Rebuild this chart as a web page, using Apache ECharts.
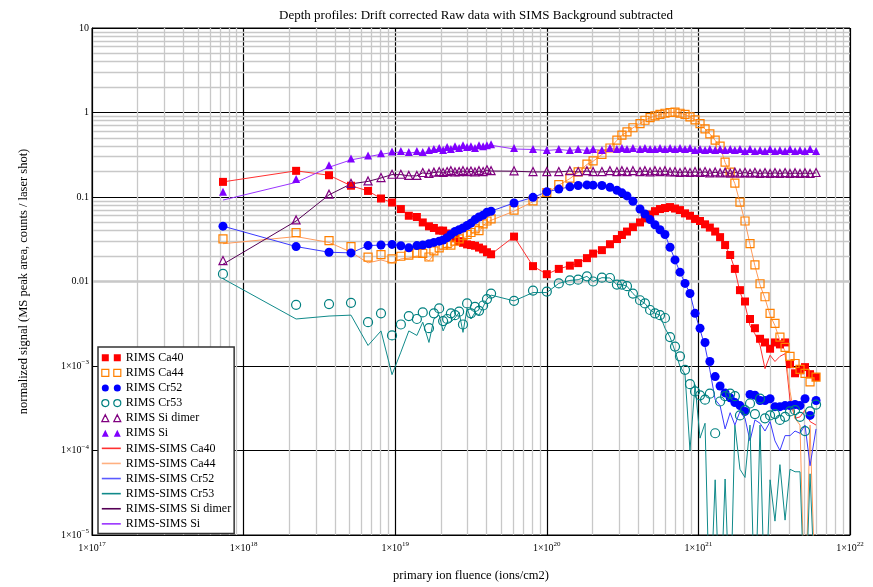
<!DOCTYPE html>
<html><head><meta charset="utf-8">
<script src="https://cdn.jsdelivr.net/npm/echarts@6/dist/echarts.min.js"></script>
<style>html,body{margin:0;padding:0;background:#fff}#c{width:873px;height:587px}</style>
</head><body><div id="c"></div>
<script>
// ---- data ----
const fluence = [
7.31e17, 2.22e18, 3.66e18, 5.11e18, 6.62e18, 8.06e18, 9.53e18, 1.09e19, 1.23e19, 1.39e19,
1.52e19, 1.67e19, 1.80e19, 1.95e19, 2.07e19, 2.20e19, 2.33e19, 2.48e19, 2.64e19, 2.80e19,
2.98e19, 3.16e19, 3.36e19, 3.57e19, 3.80e19, 4.03e19, 4.29e19, 6.08e19, 8.11e19, 1.00e20,
1.20e20, 1.42e20, 1.61e20, 1.84e20, 2.02e20, 2.31e20, 2.61e20, 2.90e20, 3.13e20, 3.38e20,
3.70e20, 4.12e20, 4.44e20, 4.80e20, 5.17e20, 5.58e20, 6.02e20, 6.50e20, 7.01e20, 7.56e20,
8.16e20, 8.80e20, 9.50e20, 1.025e21, 1.106e21, 1.19e21, 1.29e21, 1.39e21, 1.50e21, 1.62e21,
1.74e21, 1.88e21, 2.03e21, 2.19e21, 2.36e21, 2.55e21, 2.75e21, 2.97e21, 3.20e21, 3.45e21,
3.73e21, 4.02e21, 4.34e21, 4.68e21, 5.05e21, 5.45e21, 5.97e21];

const rimsCa40 = [
0.151, 0.204, 0.181, 0.136, 0.118, 0.096, 0.086, 0.072, 0.060, 0.058,
0.050, 0.045, 0.043, 0.040, 0.040, 0.037, 0.0355, 0.0325, 0.030, 0.0287,
0.0275, 0.027, 0.0265, 0.0252, 0.024, 0.0222, 0.021, 0.034, 0.0152, 0.0122,
0.0141, 0.0154, 0.0165, 0.0189, 0.0214, 0.0235, 0.0276, 0.0318, 0.0355, 0.039,
0.044, 0.050, 0.056, 0.062, 0.068, 0.072, 0.074, 0.076, 0.073, 0.070,
0.064, 0.060, 0.055, 0.052, 0.0475, 0.0435, 0.039, 0.0335, 0.027, 0.0206,
0.0141, 0.0079, 0.0058, 0.0036, 0.0028, 0.0021, 0.0019, 0.0016, 0.0019, 0.0018,
0.0019, 0.00105, 0.00082, 0.00089, 0.00097, 0.00080, 0.00074];

const rimsCa44 = [
0.0319, 0.0378, 0.0304, 0.0259, 0.0194, 0.0208, 0.0185, 0.0199, 0.0205, 0.0217,
0.0215, 0.0195, 0.023, 0.025, 0.027, 0.028, 0.027, 0.030, 0.032, 0.035,
0.036, 0.038, 0.042, 0.040, 0.048, 0.052, 0.055, 0.070, 0.090, 0.113,
0.14, 0.167, 0.198, 0.245, 0.267, 0.32, 0.38, 0.47, 0.54, 0.59,
0.66, 0.74, 0.81, 0.87, 0.91, 0.95, 0.98, 1.0, 1.01, 0.98,
0.95, 0.89, 0.82, 0.74, 0.64, 0.56, 0.47, 0.40, 0.258, 0.197,
0.146, 0.087, 0.052, 0.028, 0.0157, 0.0094, 0.0066, 0.0042, 0.0032, 0.0022,
0.00166, 0.0013, 0.00107, 0.00091, 0.00082, 0.00065, 0.00074];

const rimsCr52 = [
0.0452, 0.0259, 0.0222, 0.0218, 0.0266, 0.027, 0.0275, 0.0265, 0.025, 0.0266,
0.027, 0.028, 0.029, 0.030, 0.031, 0.033, 0.036, 0.039, 0.041, 0.043,
0.046, 0.049, 0.054, 0.058, 0.061, 0.066, 0.068, 0.085, 0.099, 0.115,
0.124, 0.132, 0.137, 0.139, 0.138, 0.137, 0.130, 0.120, 0.112, 0.103,
0.089, 0.072, 0.063, 0.054, 0.047, 0.041, 0.036, 0.0254, 0.018, 0.0129,
0.0095, 0.0072, 0.0042, 0.0028, 0.0019, 0.00113, 0.00075, 0.00058, 0.00048, 0.00042,
0.00037, 0.00034, 0.00029, 0.00046, 0.00045, 0.00039, 0.00039, 0.00041, 0.00033, 0.00033,
0.00034, 0.00034, 0.00035, 0.00034, 0.00041, 0.00026, 0.00039];

const rimsCr53 = [
0.0123, 0.0053, 0.0054, 0.0056, 0.0033, 0.0042, 0.0023, 0.0031, 0.0039, 0.0036,
0.0043, 0.0028, 0.0042, 0.0048, 0.0034, 0.0036, 0.0042, 0.0040, 0.0044, 0.0031,
0.0055, 0.0042, 0.0050, 0.0045, 0.0052, 0.0062, 0.0072, 0.0059, 0.0078, 0.0076,
0.0095, 0.0103, 0.0105, 0.0115, 0.0100, 0.0111, 0.0110, 0.0092, 0.0092, 0.0088,
0.0072, 0.0060, 0.0055, 0.0046, 0.0042, 0.0040, 0.0037, 0.0022, 0.0017, 0.0013,
0.0009, 0.00061, 0.0005, 0.00045, 0.0004, 0.00047, 0.00016, 0.00038, 0.00044, 0.00047,
0.00044, 0.00026, 0.0003, 0.00036, 0.00027, 0.00041, 0.00024, 0.00026, 0.00027, 0.00023,
0.00025, 0.00029, 0.0003, 0.00025, 0.00017, 0.00029, 0.00035];

const rimsSiDimer = [
0.0177, 0.0535, 0.108, 0.145, 0.155, 0.17, 0.186, 0.186, 0.18, 0.18,
0.195, 0.19, 0.197, 0.2, 0.195, 0.2, 0.205, 0.198, 0.2, 0.205,
0.2, 0.203, 0.198, 0.205, 0.2, 0.21, 0.205, 0.204, 0.2, 0.2,
0.2, 0.205, 0.2, 0.205, 0.2, 0.2, 0.205, 0.2, 0.205, 0.2,
0.205, 0.2, 0.205, 0.198, 0.205, 0.2, 0.205, 0.198, 0.2, 0.195,
0.2, 0.195, 0.2, 0.195, 0.2, 0.193, 0.198, 0.193, 0.197, 0.192,
0.197, 0.192, 0.196, 0.191, 0.196, 0.19, 0.195, 0.19, 0.195, 0.19,
0.195, 0.19, 0.194, 0.19, 0.194, 0.19, 0.195];

const rimsSi = [
0.115, 0.163, 0.238, 0.285, 0.31, 0.33, 0.345, 0.35, 0.34, 0.35,
0.34, 0.36, 0.37, 0.38, 0.36, 0.39, 0.37, 0.40, 0.38, 0.41,
0.39, 0.40, 0.38, 0.41, 0.40, 0.41, 0.42, 0.38, 0.37, 0.36,
0.37, 0.36, 0.37, 0.36, 0.37, 0.36, 0.38, 0.37, 0.38, 0.37,
0.38, 0.37, 0.38, 0.37, 0.37, 0.38, 0.37, 0.38, 0.37, 0.38,
0.37, 0.38, 0.36, 0.37, 0.36, 0.37, 0.36, 0.37, 0.36, 0.37,
0.36, 0.37, 0.35, 0.37, 0.35, 0.36, 0.35, 0.37, 0.35, 0.36,
0.35, 0.37, 0.35, 0.36, 0.35, 0.37, 0.35];

const simsCa40 = [
0.151, 0.204, 0.181, 0.136, 0.118, 0.096, 0.086, 0.072, 0.060, 0.058,
0.050, 0.045, 0.043, 0.040, 0.040, 0.037, 0.0355, 0.0325, 0.030, 0.0287,
0.0275, 0.027, 0.0265, 0.0252, 0.024, 0.0222, 0.021, 0.034, 0.0152, 0.0122,
0.0141, 0.0154, 0.0165, 0.0189, 0.0214, 0.0235, 0.0276, 0.0318, 0.0355, 0.039,
0.044, 0.050, 0.056, 0.062, 0.068, 0.072, 0.074, 0.076, 0.073, 0.070,
0.064, 0.060, 0.055, 0.052, 0.0475, 0.0435, 0.039, 0.0333, 0.0268, 0.0204,
0.0139, 0.0075, 0.0053, 0.0030, 0.0024, 0.00176, 0.00093, 0.00134, 0.00113, 0.0013,
0.0014, 0.0004, 0.00024, 0.00025, 0.0003, 0.00022, 0.0002];

const simsCa44 = [
0.028, 0.034, 0.029, 0.0223, 0.0166, 0.018, 0.0166, 0.0185, 0.019, 0.020,
0.0195, 0.0175, 0.021, 0.023, 0.025, 0.026, 0.025, 0.028, 0.030, 0.033,
0.034, 0.036, 0.040, 0.038, 0.046, 0.050, 0.053, 0.068, 0.088, 0.111,
0.138, 0.165, 0.196, 0.243, 0.265, 0.318, 0.378, 0.468, 0.538, 0.588,
0.658, 0.738, 0.808, 0.868, 0.908, 0.948, 0.978, 0.998, 1.008, 0.978,
0.948, 0.888, 0.818, 0.738, 0.638, 0.558, 0.468, 0.398, 0.256, 0.195,
0.144, 0.086, 0.051, 0.0275, 0.0153, 0.0091, 0.0063, 0.0040, 0.0030, 0.0020,
0.0015, 0.0005, 0.00024, 0.0002, 0.000001, 0.0002, 0.000001];

const simsCr52 = [
0.0452, 0.0259, 0.0222, 0.0218, 0.0266, 0.027, 0.0275, 0.0265, 0.025, 0.0266,
0.027, 0.028, 0.029, 0.030, 0.031, 0.033, 0.036, 0.039, 0.041, 0.043,
0.046, 0.049, 0.054, 0.058, 0.061, 0.066, 0.068, 0.085, 0.099, 0.115,
0.124, 0.132, 0.137, 0.139, 0.138, 0.137, 0.130, 0.120, 0.112, 0.103,
0.089, 0.072, 0.063, 0.054, 0.047, 0.041, 0.036, 0.0254, 0.018, 0.0129,
0.0095, 0.0072, 0.0042, 0.0027, 0.0017, 0.0009, 0.0004, 0.00034, 0.00018, 0.00028,
0.0002, 0.00029, 0.00024, 0.00013, 0.00023, 0.00021, 0.00017, 0.00022, 0.00013, 0.0001,
0.00015, 0.00015, 0.00017, 0.00016, 0.0002, 0.000066, 0.00018];

const simsCr53 = [
0.0108, 0.0036, 0.0039, 0.0040, 0.00175, 0.0026, 0.00079, 0.00146, 0.0026, 0.0023,
0.0033, 0.0019, 0.0036, 0.0040, 0.0026, 0.0033, 0.0033, 0.0037, 0.0043, 0.0025,
0.0048, 0.0036, 0.0043, 0.0040, 0.0050, 0.0062, 0.0069, 0.0059, 0.0074, 0.0074,
0.0095, 0.0103, 0.0105, 0.0115, 0.0100, 0.0111, 0.0110, 0.0092, 0.0092, 0.0088,
0.0072, 0.0060, 0.0055, 0.0046, 0.0042, 0.0040, 0.0028, 0.0022, 0.0015, 0.00099,
0.0008, 0.0001, 0.0006, 0.00014, 0.00021, 0.000001, 0.000045, 0.000001, 0.000046, 0.000001,
0.0002, 0.00006, 0.000048, 0.0002, 0.000001, 0.0002, 0.000001, 0.000045, 0.0000146, 0.000068,
0.000015, 0.00006, 0.000056, 0.000056, 0.000001, 0.000053, 0.000001];

const simsSiDimer = [
0.016, 0.052, 0.106, 0.143, 0.153, 0.168, 0.184, 0.184, 0.178, 0.178,
0.193, 0.188, 0.195, 0.198, 0.193, 0.198, 0.203, 0.196, 0.198, 0.203,
0.198, 0.201, 0.196, 0.203, 0.198, 0.208, 0.203, 0.202, 0.198, 0.198,
0.198, 0.203, 0.198, 0.203, 0.198, 0.198, 0.203, 0.198, 0.203, 0.198,
0.203, 0.198, 0.203, 0.196, 0.203, 0.198, 0.203, 0.196, 0.198, 0.193,
0.198, 0.193, 0.198, 0.193, 0.198, 0.191, 0.196, 0.191, 0.195, 0.19,
0.195, 0.19, 0.194, 0.189, 0.194, 0.188, 0.193, 0.188, 0.193, 0.188,
0.193, 0.188, 0.192, 0.188, 0.192, 0.188, 0.193];

const simsSi = [
0.092, 0.149, 0.225, 0.275, 0.30, 0.32, 0.335, 0.34, 0.33, 0.34,
0.33, 0.35, 0.36, 0.37, 0.35, 0.38, 0.36, 0.39, 0.37, 0.40,
0.38, 0.39, 0.37, 0.40, 0.39, 0.40, 0.41, 0.37, 0.365, 0.355,
0.365, 0.355, 0.365, 0.355, 0.365, 0.355, 0.375, 0.365, 0.375, 0.365,
0.375, 0.365, 0.375, 0.365, 0.365, 0.375, 0.365, 0.375, 0.365, 0.375,
0.365, 0.375, 0.355, 0.365, 0.355, 0.365, 0.355, 0.365, 0.355, 0.365,
0.355, 0.365, 0.345, 0.365, 0.345, 0.355, 0.345, 0.365, 0.345, 0.355,
0.345, 0.365, 0.345, 0.355, 0.345, 0.365, 0.345];

const xTickExponents = [17, 18, 19, 20, 21, 22];
const yTickLabels = {"1": "10", "0": "1", "-1": "0.1", "-2": "0.01"};
const minorMantissas = [2, 3, 4, 5, 6, 7, 8, 9];

// ---- chart ----
const SERIF = '"Liberation Serif","DejaVu Serif",serif';
function expLabel(e){ return '{m|1\u00d710}{s|' + String(e).replace('-', '\u2212') + '}'; }
const richLab = {
  m: {fontFamily: SERIF, fontSize: 10, color: '#000', lineHeight: 14},
  s: {fontFamily: SERIF, fontSize: 7, color: '#000', lineHeight: 8, verticalAlign: 'top'}
};

const pts = arr => fluence.map((x, i) => [x, arr[i]]);

function scatter(name, arr, symbol, color, hollow, size){
  return {
    name, type: 'scatter', data: pts(arr), symbol, symbolSize: size, z: 3,
    itemStyle: hollow ? {color: 'rgba(255,255,255,0)', borderColor: color, borderWidth: 1.2, opacity: 1} : {color: color, opacity: 1},
    emphasis: {disabled: true}
  };
}
function line(name, arr, color){
  return {
    name, type: 'line', data: pts(arr), symbol: 'none', showSymbol: false, z: 2,
    lineStyle: {color: color, width: 1}, itemStyle: {color: color}, clip: true,
    emphasis: {disabled: true}
  };
}

const minorX = [], minorY = [];
for (let e = 17; e < 22; e++) minorMantissas.forEach(m => minorX.push({xAxis: m * Math.pow(10, e)}));
for (let e = -5; e < 1; e++) minorMantissas.forEach(m => minorY.push({yAxis: +(m * Math.pow(10, e)).toPrecision(3)}));

const C = {
  ca40: '#ff0000', ca44: '#ff8000', cr52: '#0000ff', cr53: '#008080', sid: '#800080', si: '#8000ff',
  lca40: '#ff3030', lca44: '#ff9a5a', lcr52: '#3a3aff', lcr53: '#108a8a', lsid: '#550055', lsi: '#9a33ff'
};

const series = [
  {type: 'line', name: '_grid', data: [], z: 0, silent: true,
   markLine: {silent: true, z: 0, symbol: ['none', 'none'], label: {show: false}, animation: false,
     lineStyle: {color: '#c8c8c8', type: 'solid', width: 1.3},
     data: minorX.concat(minorY)}},
  scatter('RIMS Ca40', rimsCa40, 'rect', C.ca40, false, 8),
  scatter('RIMS Ca44', rimsCa44, 'rect', C.ca44, true, 8),
  scatter('RIMS Cr52', rimsCr52, 'circle', C.cr52, false, 9),
  scatter('RIMS Cr53', rimsCr53, 'circle', C.cr53, true, 9),
  scatter('RIMS Si dimer', rimsSiDimer, 'triangle', C.sid, true, 8),
  scatter('RIMS Si', rimsSi, 'triangle', C.si, false, 8),
  line('RIMS-SIMS Ca40', simsCa40, C.lca40),
  line('RIMS-SIMS Ca44', simsCa44, C.lca44),
  line('RIMS-SIMS Cr52', simsCr52, C.lcr52),
  line('RIMS-SIMS Cr53', simsCr53, C.lcr53),
  line('RIMS-SIMS Si dimer', simsSiDimer, C.lsid),
  line('RIMS-SIMS Si', simsSi, C.lsi)
];

const SQ = 'path://M0,0H7V7H0Z M12,0H19V7H12Z';
const CI = 'path://M7,3.5A3.5,3.5,0,1,1,0,3.5A3.5,3.5,0,1,1,7,3.5Z M19,3.5A3.5,3.5,0,1,1,12,3.5A3.5,3.5,0,1,1,19,3.5Z';
const TR = 'path://M3.5,0L7,7L0,7Z M15.5,0L19,7L12,7Z';
const hollowStyle = c => ({color: 'rgba(255,255,255,0)', borderColor: c, borderWidth: 1.2, opacity: 1});
const lineItem = (name, c) => ({name, itemStyle: {color: 'rgba(0,0,0,0)', borderWidth: 0, opacity: 0}, lineStyle: {color: c, width: 1.6}});

const chart = echarts.init(document.getElementById('c'), null, {renderer: 'canvas'});
chart.setOption({
  animation: false,
  backgroundColor: '#fff',
  title: {
    text: 'Depth profiles: Drift corrected Raw data with SIMS Background subtracted',
    left: 471, top: 4, textAlign: 'center',
    textStyle: {fontFamily: SERIF, fontSize: 13, fontWeight: 'normal', color: '#000'}
  },
  grid: {left: 92, right: 23, top: 28, bottom: 50, show: true, borderColor: '#000', borderWidth: 1},
  xAxis: {
    type: 'log', logBase: 10, min: 1e17, max: 1e22,
    name: 'primary ion fluence (ions/cm2)', nameLocation: 'middle', nameGap: 34,
    nameTextStyle: {fontFamily: SERIF, fontSize: 12.5, color: '#000'},
    axisLine: {show: true, lineStyle: {color: '#000', width: 1}},
    axisTick: {show: false},
    axisLabel: {margin: 6, formatter: v => {
      const e = Math.round(Math.log10(v));
      return xTickExponents.indexOf(e) >= 0 ? expLabel(e) : '';
    }, rich: richLab},
    splitLine: {show: true, lineStyle: {color: '#000', width: 1.2}}
  },
  yAxis: {
    type: 'log', logBase: 10, min: 1e-5, max: 10,
    name: 'normalized signal (MS peak area, counts / laser shot)', nameLocation: 'middle', nameGap: 62,
    nameTextStyle: {fontFamily: SERIF, fontSize: 12.5, color: '#000'},
    axisLine: {show: true, lineStyle: {color: '#000', width: 1}},
    axisTick: {show: false},
    axisLabel: {margin: 3, formatter: v => {
      const e = Math.round(Math.log10(v));
      if (yTickLabels[String(e)] !== undefined) return '{m|' + yTickLabels[String(e)] + '}';
      return expLabel(e);
    }, rich: richLab},
    splitLine: {show: true, lineStyle: {color: '#000', width: 1.2}}
  },
  legend: {
    orient: 'vertical', left: 98, top: 347, z: 20,
    backgroundColor: '#fff', borderColor: '#333', borderWidth: 1.5, borderRadius: 0,
    padding: [4, 3, 3, 3], itemGap: 1.6, itemWidth: 19, itemHeight: 7, itemTextGap: 4,
    textStyle: {fontFamily: SERIF, fontSize: 12, color: '#000', lineHeight: 13.5},
    selectedMode: false,
    data: [
      {name: 'RIMS Ca40', icon: SQ, itemStyle: {color: C.ca40, opacity: 1}},
      {name: 'RIMS Ca44', icon: SQ, itemStyle: hollowStyle(C.ca44)},
      {name: 'RIMS Cr52', icon: CI, itemStyle: {color: C.cr52, opacity: 1}},
      {name: 'RIMS Cr53', icon: CI, itemStyle: hollowStyle(C.cr53)},
      {name: 'RIMS Si dimer', icon: TR, itemStyle: hollowStyle(C.sid)},
      {name: 'RIMS Si', icon: TR, itemStyle: {color: C.si, opacity: 1}},
      lineItem('RIMS-SIMS Ca40', C.lca40),
      lineItem('RIMS-SIMS Ca44', '#ffb080'),
      lineItem('RIMS-SIMS Cr52', '#5a5aff'),
      lineItem('RIMS-SIMS Cr53', C.lcr53),
      lineItem('RIMS-SIMS Si dimer', C.lsid),
      lineItem('RIMS-SIMS Si', C.lsi)
    ]
  },
  series: series
});
</script>
</body></html>
